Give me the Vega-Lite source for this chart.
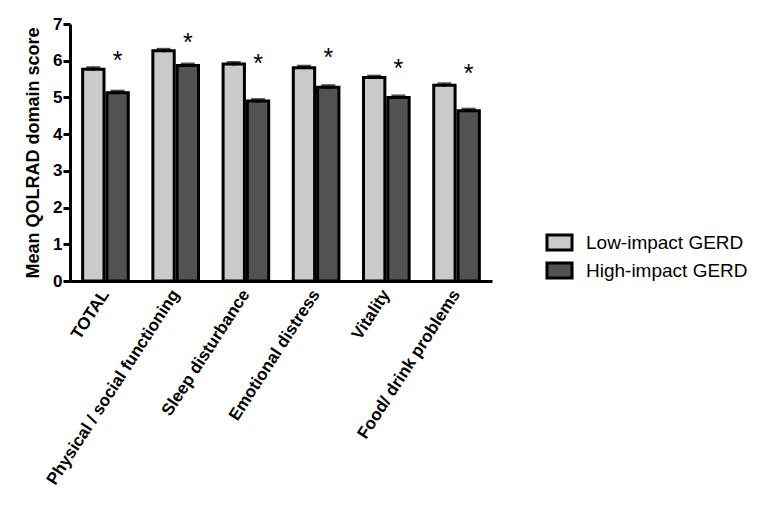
{
  "$schema": "https://vega.github.io/schema/vega-lite/v6.json",
  "width": 422,
  "height": 257,
  "autosize": {"type": "none"},
  "padding": {"left": 70, "top": 24, "right": 274, "bottom": 234},
  "background": "white",
  "config": {
    "view": {"stroke": null},
    "font": "Liberation Sans",
    "axis": {"grid": false, "domainColor": "black", "domainWidth": 3, "tickColor": "black", "tickWidth": 3, "labelColor": "black", "titleColor": "black", "labelFont": "Liberation Sans", "titleFont": "Liberation Sans"}
  },
  "data": {
    "values": [
      {"domain": "TOTAL", "group": "Low-impact GERD", "mean": 5.77, "lo": 5.73, "hi": 5.81},
      {"domain": "TOTAL", "group": "High-impact GERD", "mean": 5.13, "lo": 5.09, "hi": 5.17, "star": 6.15},
      {"domain": "Physical / social functioning", "group": "Low-impact GERD", "mean": 6.27, "lo": 6.23, "hi": 6.31},
      {"domain": "Physical / social functioning", "group": "High-impact GERD", "mean": 5.87, "lo": 5.83, "hi": 5.91, "star": 6.65},
      {"domain": "Sleep disturbance", "group": "Low-impact GERD", "mean": 5.91, "lo": 5.87, "hi": 5.95},
      {"domain": "Sleep disturbance", "group": "High-impact GERD", "mean": 4.9, "lo": 4.86, "hi": 4.94, "star": 6.07},
      {"domain": "Emotional distress", "group": "Low-impact GERD", "mean": 5.81, "lo": 5.77, "hi": 5.85},
      {"domain": "Emotional distress", "group": "High-impact GERD", "mean": 5.28, "lo": 5.24, "hi": 5.32, "star": 6.24},
      {"domain": "Vitality", "group": "Low-impact GERD", "mean": 5.54, "lo": 5.5, "hi": 5.58},
      {"domain": "Vitality", "group": "High-impact GERD", "mean": 5.0, "lo": 4.96, "hi": 5.04, "star": 5.94},
      {"domain": "Food/ drink problems", "group": "Low-impact GERD", "mean": 5.33, "lo": 5.29, "hi": 5.37},
      {"domain": "Food/ drink problems", "group": "High-impact GERD", "mean": 4.64, "lo": 4.6, "hi": 4.68, "star": 5.8}
    ]
  },
  "encoding": {
    "x": {
      "field": "domain", "type": "nominal", "sort": null,
      "scale": {"paddingInner": 0.35, "paddingOuter": 0.18},
      "axis": {"title": null, "labelAngle": -57, "labelAlign": "right", "labelBaseline": "middle", "labelFontSize": 17, "labelFontWeight": "bold", "labelLimit": 0, "ticks": false, "labelPadding": 10, "domainWidth": 3}
    },
    "xOffset": {"field": "group", "type": "nominal", "sort": ["Low-impact GERD", "High-impact GERD"], "scale": {"paddingInner": 0.12}}
  },
  "layer": [
    {
      "mark": {"type": "bar", "stroke": "black", "strokeWidth": 3},
      "encoding": {
        "y": {"field": "mean", "type": "quantitative", "scale": {"domain": [0, 7]},
          "axis": {"title": "Mean QOLRAD domain score", "titleFontSize": 18, "titleFontWeight": "bold", "labelFontSize": 17, "labelFontWeight": "bold", "tickCount": 7, "tickSize": 7, "labelPadding": 1, "titlePadding": 10}},
        "fill": {"field": "group", "type": "nominal", "sort": ["Low-impact GERD", "High-impact GERD"],
          "scale": {"domain": ["Low-impact GERD", "High-impact GERD"], "range": ["#cacaca", "#525252"]},
          "legend": {"title": null, "orient": "none", "legendX": 480, "legendY": 209, "labelFontSize": 19, "labelLimit": 0, "labelColor": "black", "symbolType": "M-1.67,-1L1.67,-1L1.67,1L-1.67,1Z", "symbolSize": 225, "symbolStrokeColor": "black", "symbolStrokeWidth": 3, "rowPadding": 1, "labelOffset": 17}}
      }
    },
    {
      "mark": {"type": "rule", "color": "black", "strokeWidth": 3},
      "encoding": {"y": {"field": "lo", "type": "quantitative"}, "y2": {"field": "hi"}}
    },
    {
      "mark": {"type": "tick", "color": "black", "thickness": 3, "size": 14},
      "encoding": {"y": {"field": "hi", "type": "quantitative"}}
    },
    {
      "transform": [{"filter": "isValid(datum.star)"}],
      "mark": {"type": "text", "text": "*", "fontSize": 25, "baseline": "middle", "dy": 6, "color": "black"},
      "encoding": {"y": {"field": "star", "type": "quantitative"}}
    }
  ]
}
